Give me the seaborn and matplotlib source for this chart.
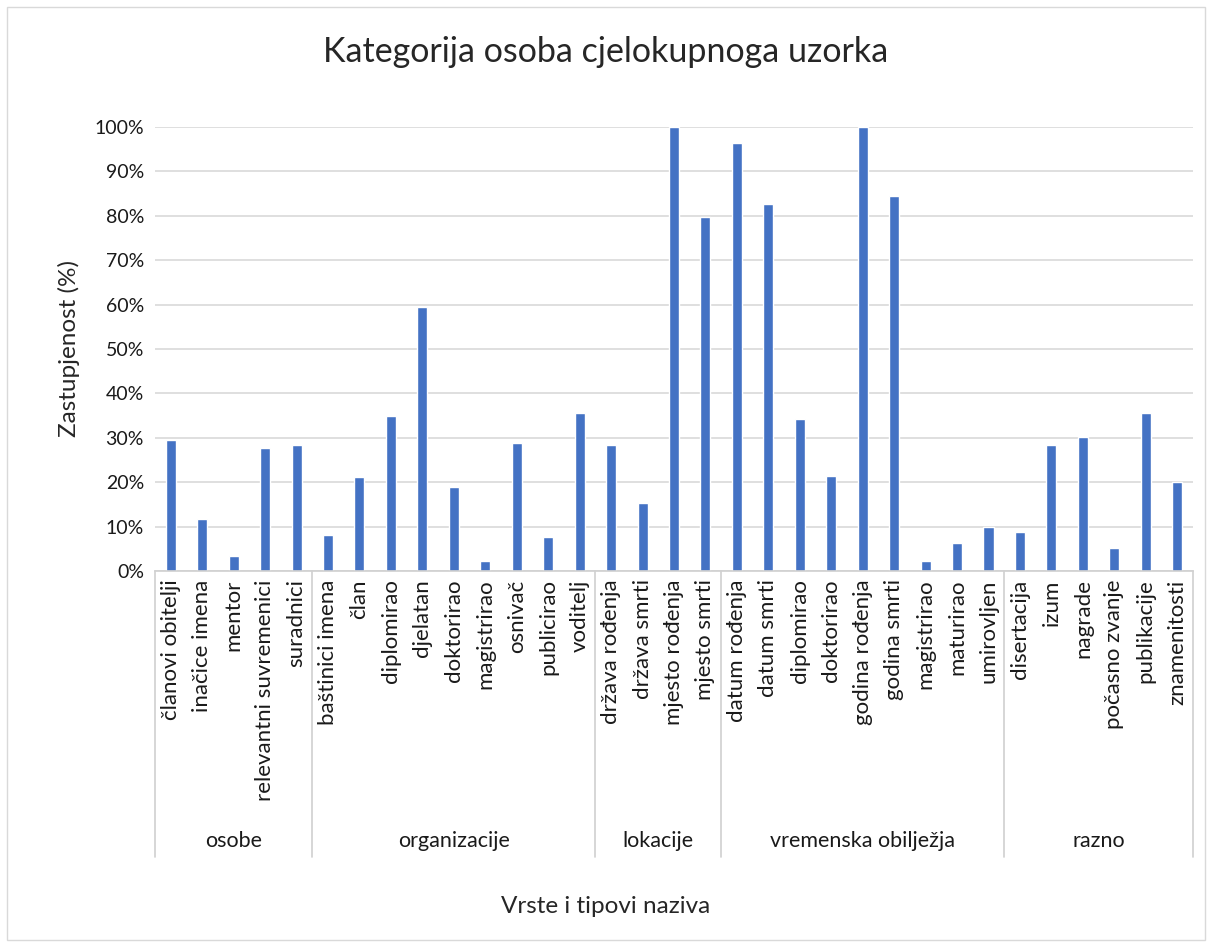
import pandas as pd
import matplotlib.pyplot as plt
import matplotlib.transforms as mtransforms
from matplotlib.patches import Rectangle
import seaborn as sns

# ---- data ----
groups = ["osobe", "organizacije", "lokacije", "vremenska obilježja", "razno"]

osobe = ["članovi obitelji", "inačice imena", "mentor", "relevantni suvremenici", "suradnici"]
osobe_vals = [29.5, 11.7, 3.4, 27.8, 28.4]

organizacije = ["baštinici imena", "član", "diplomirao", "djelatan", "doktorirao",
                "magistrirao", "osnivač", "publicirao", "voditelj"]
organizacije_vals = [8.2, 21.2, 34.9, 59.4, 18.9, 2.2, 28.9, 7.6, 35.6]

lokacije = ["država rođenja", "država smrti", "mjesto rođenja", "mjesto smrti"]
lokacije_vals = [28.4, 15.3, 100.0, 79.7]

vremenska = ["datum rođenja", "datum smrti", "diplomirao", "doktorirao", "godina rođenja",
             "godina smrti", "magistrirao", "maturirao", "umirovljen"]
vremenska_vals = [96.4, 82.6, 34.3, 21.3, 100.0, 84.5, 2.3, 6.4, 10.0]

razno = ["disertacija", "izum", "nagrade", "počasno zvanje", "publikacije", "znamenitosti"]
razno_vals = [8.7, 28.3, 30.2, 5.2, 35.6, 20.0]

# ---- build one long table ----
label_lists = [osobe, organizacije, lokacije, vremenska, razno]
value_lists = [osobe_vals, organizacije_vals, lokacije_vals, vremenska_vals, razno_vals]

rows = []
for g, labs, vals in zip(groups, label_lists, value_lists):
    for lab, v in zip(labs, vals):
        rows.append({"grupa": g, "naziv": lab, "key": g + "|" + lab, "vrijednost": v})
df = pd.DataFrame(rows)

sns.set_style("white")
plt.rcParams["font.family"] = ["Lato", "DejaVu Sans"]

fig = plt.figure(figsize=(12.12, 9.49), dpi=100)
ax = fig.add_axes([0.1279, 0.3983, 0.8564, 0.4679])

sns.barplot(data=df, x="key", y="vrijednost", order=list(df["key"]),
            color="#4472C4", saturation=1, width=0.32, ax=ax)

ax.set_xlim(-0.5, len(df) - 0.5)
ax.set_ylim(0, 100)
ax.set_yticks(range(0, 101, 10))
ax.set_yticklabels([f"{t}%" for t in range(0, 101, 10)], fontsize=14, color="#1a1a1a")
ax.yaxis.grid(True, color="#d9d9d9", linewidth=1.2)
ax.set_axisbelow(True)
for s in ["top", "right", "left"]:
    ax.spines[s].set_visible(False)
ax.spines["bottom"].set_color("#d0d0d0")
ax.spines["bottom"].set_linewidth(1.2)

ax.set_xticks(range(len(df)))
ax.set_xticklabels(df["naziv"], rotation=90, fontsize=16, color="#1a1a1a")
ax.tick_params(axis="both", length=0)
ax.tick_params(axis="x", pad=6)
ax.tick_params(axis="y", pad=8)
ax.set_xlabel("")
ax.set_ylabel("Zastupjenost (%)", fontsize=17.5, labelpad=10)

# multi-level category axis: separators and group names
trans = mtransforms.blended_transform_factory(ax.transData, ax.transAxes)
start = 0
bounds = [-0.5]
for g, labs in zip(groups, label_lists):
    end = start + len(labs)
    bounds.append(end - 0.5)
    ax.text((start + end - 1) / 2, -0.608, g, transform=trans, ha="center", va="center",
            fontsize=15.5, color="#1a1a1a")
    start = end
for b in bounds:
    ax.plot([b, b], [0, -0.644], transform=trans, color="#d0d0d0", linewidth=1.2, clip_on=False)

fig.text(0.5, 0.945, "Kategorija osoba cjelokupnoga uzorka", ha="center", va="center", fontsize=24.5)
fig.text(0.5, 0.0443, "Vrste i tipovi naziva", ha="center", va="center", fontsize=17.5)

fig.patches.append(Rectangle((7 / 1212, 9 / 949), 1198 / 1212, 933 / 949, transform=fig.transFigure,
                             fill=False, edgecolor="#d9d9d9", linewidth=1))

fig.savefig("out.png", dpi=100)
